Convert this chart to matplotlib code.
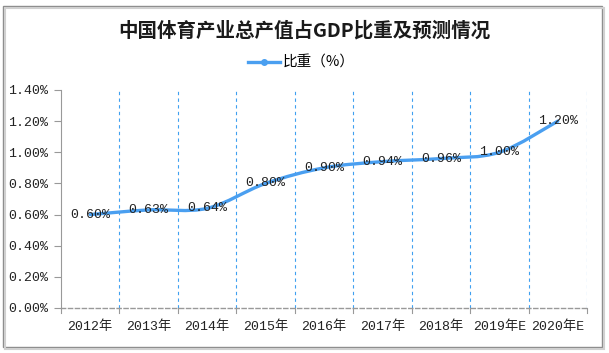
import matplotlib.pyplot as plt
import numpy as np
from matplotlib.path import Path
from matplotlib.patches import PathPatch, Rectangle
from matplotlib.lines import Line2D

years = ["2012年", "2013年", "2014年", "2015年", "2016年", "2017年", "2018年", "2019年E", "2020年E"]
share = [0.60, 0.63, 0.64, 0.80, 0.90, 0.94, 0.96, 1.00, 1.20]
labels = ["0.60%", "0.63%", "0.64%", "0.80%", "0.90%", "0.94%", "0.96%", "1.00%", "1.20%"]

num_font = ["Liberation Mono", "Noto Sans CJK SC"]
cjk_font = ["Noto Sans CJK SC", "DejaVu Sans"]
line_col = "#4a9ff0"

fig = plt.figure(figsize=(6.09, 3.53), dpi=100)
ax = fig.add_axes([61 / 609, 1 - 308 / 353, 526 / 609, 218 / 353])

# outer frame of the picture (with a soft shadow on the right/bottom)
fig.patches.append(Rectangle((4.5 / 609, 1 - 348.5 / 353), 599 / 609, 341 / 353,
                             transform=fig.transFigure, fill=False,
                             edgecolor="#d0d0d0", linewidth=1.5))
fig.patches.append(Rectangle((3 / 609, 1 - 347 / 353), 599 / 609, 341 / 353,
                             transform=fig.transFigure, facecolor="white",
                             edgecolor="#8c8c8c", linewidth=1.0, zorder=-1))

x = np.arange(len(years))
y = np.array(share)

# smooth curve through the points (Catmull-Rom -> cubic bezier)
verts = [(x[0], y[0])]
codes = [Path.MOVETO]
for i in range(len(x) - 1):
    p0 = (x[max(i - 1, 0)], y[max(i - 1, 0)])
    p1 = (x[i], y[i])
    p2 = (x[i + 1], y[i + 1])
    p3 = (x[min(i + 2, len(x) - 1)], y[min(i + 2, len(x) - 1)])
    c1 = (p1[0] + (p2[0] - p0[0]) / 6, p1[1] + (p2[1] - p0[1]) / 6)
    c2 = (p2[0] - (p3[0] - p1[0]) / 6, p2[1] - (p3[1] - p1[1]) / 6)
    verts += [c1, c2, p2]
    codes += [Path.CURVE4] * 3
ax.add_patch(PathPatch(Path(verts, codes), facecolor="none", edgecolor=line_col,
                       linewidth=2.4, capstyle="round", zorder=3))

for xi, yi, lb in zip(x, y, labels):
    ax.text(xi, yi, lb, ha="center", va="center", fontsize=9.5,
            family=num_font, color="#222222", zorder=4)

ax.set_facecolor("none")
ax.set_xlim(-0.5, len(years) - 0.5)
ax.set_ylim(0, 1.4)
ax.set_yticks(np.arange(0, 1.41, 0.2))
ax.set_yticklabels([f"{v:.2f}%" for v in np.arange(0, 1.41, 0.2)],
                   family=num_font, fontsize=9.5, color="#222222")
ax.set_xticks(x)
ax.set_xticklabels(years, family=num_font, fontsize=9.5, color="#222222")
ax.tick_params(axis="x", length=0, pad=9)
ax.tick_params(axis="y", length=5, color="#999999", pad=4)

# bin boundary ticks and dashed vertical lines
for b in np.arange(0.5, len(years), 1.0):
    ax.axvline(b, color="#3fa0f0", linestyle=(0, (3, 3)), linewidth=0.8, zorder=1)
    ax.plot([b, b], [0, -0.035], color="#999999", linewidth=0.8, clip_on=False)
ax.plot([-0.5, -0.5], [0, -0.035], color="#999999", linewidth=0.8, clip_on=False)

for s in ["top", "right"]:
    ax.spines[s].set_visible(False)
ax.spines["left"].set_color("#999999")
ax.spines["bottom"].set_color("#999999")
ax.spines["bottom"].set_linestyle((0, (3, 2)))
ax.spines["bottom"].set_linewidth(1.0)

fig.text(304 / 609, 1 - 31 / 353, "中国体育产业总产值占GDP比重及预测情况",
         ha="center", va="center", fontsize=14, fontweight="bold",
         family=cjk_font, color="#1a1a1a")

handle = Line2D([], [], color=line_col, linewidth=2.4, marker="o", markersize=4)
fig.legend([handle], ["比重（%）"], loc="center", bbox_to_anchor=(301 / 609, 1 - 63 / 353),
           frameon=False, prop={"family": cjk_font, "size": 10.5},
           handlelength=2.2, handletextpad=0.2)

fig.savefig("out.png", dpi=100)
